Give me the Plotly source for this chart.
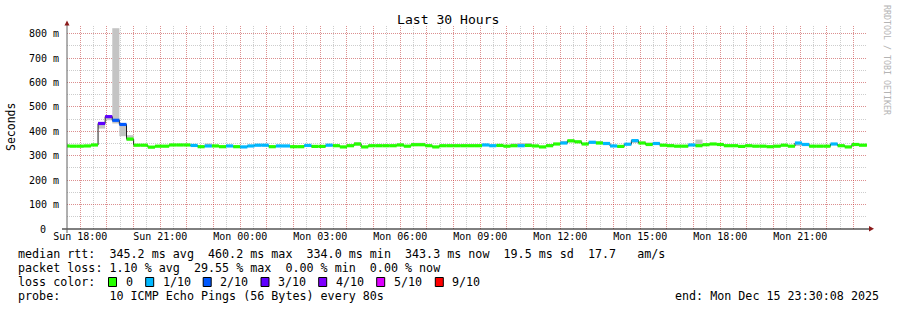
import plotly.graph_objects as go
from datetime import datetime, timedelta

FONT = "DejaVu Sans Mono"

# ---------------- data ----------------
first_step = "2025-12-14 17:20:00"      # start of first 16-minute RRD step
step_minutes = 16
window_start = "2025-12-14 17:30:08"
window_end = "2025-12-15 23:30:08"

median_ms = [
    340, 339, 339, 340, 344, 432, 460, 445, 428, 368,
    343, 343, 335, 339, 339, 344, 344, 344, 342, 337,
    340, 340, 337, 340, 337, 336, 340, 343, 343, 337,
    340, 340, 337, 337, 342, 338, 338, 343, 341, 336,
    341, 348, 336, 341, 341, 341, 341, 344, 339, 345,
    345, 341, 336, 341, 341, 341, 341, 341, 341, 344,
    341, 342, 339, 341, 341, 342, 340, 336, 341, 348,
    352, 361, 357, 348, 355, 352, 350, 340, 338, 347,
    362, 352, 346, 350, 343, 341, 339, 339, 344, 341,
    345, 348, 346, 341, 341, 338, 341, 339, 339, 337,
    339, 343, 339, 352, 346, 339, 339, 339, 348, 341,
    336, 346, 343, 343,
]

# loss bucket per step (index into loss_labels)
loss_bin = [
    0, 0, 0, 0, 0, 3, 3, 2, 2, 0,
    0, 0, 0, 0, 0, 0, 0, 0, 1, 0,
    1, 0, 0, 1, 0, 1, 1, 1, 1, 0,
    1, 1, 0, 0, 1, 0, 0, 1, 0, 0,
    0, 0, 0, 0, 0, 0, 0, 0, 0, 0,
    0, 0, 0, 0, 0, 0, 0, 0, 0, 1,
    1, 0, 0, 0, 1, 0, 0, 0, 0, 0,
    1, 0, 0, 0, 1, 0, 1, 1, 0, 1,
    1, 0, 0, 1, 0, 0, 0, 0, 1, 0,
    0, 0, 0, 0, 0, 0, 0, 0, 0, 0,
    0, 0, 0, 1, 1, 0, 0, 0, 1, 0,
    0, 0, 0, 0,
]

# steps where the smoke (ping spread) is visible
smoke_steps = [5, 6, 7, 8, 9, 20, 41, 47, 49, 50, 63, 64, 65, 68, 70, 71, 72, 74, 75,
               80, 81, 82, 83, 85, 89, 103, 104]
smoke_lo = [411, 445, 432, 380, 362, 340, 341, 341, 345, 345, 341, 341, 342, 341, 348, 355, 352, 350, 348,
            352, 348, 346, 345, 341, 341, 340, 340]
smoke_hi = [432, 462, 822, 428, 384, 350, 355, 350, 353, 353, 350, 352, 352, 348, 360, 366, 362, 360, 360,
            366, 358, 354, 356, 346, 366, 352, 350]

loss_labels = ["0", "1/10", "2/10", "3/10", "4/10", "5/10", "9/10"]
loss_colors = ["#26ff00", "#00b8ff", "#0059ff", "#5e00ff", "#7e00ff", "#dd00ff", "#ff0000"]

y_tick_values = [0, 100, 200, 300, 400, 500, 600, 700, 800]
y_tick_labels = ["0", "100 m", "200 m", "300 m", "400 m", "500 m", "600 m", "700 m", "800 m"]

x_label_times = ["2025-12-14 18:00", "2025-12-14 21:00", "2025-12-15 00:00", "2025-12-15 03:00",
                 "2025-12-15 06:00", "2025-12-15 09:00", "2025-12-15 12:00", "2025-12-15 15:00",
                 "2025-12-15 18:00", "2025-12-15 21:00"]
x_labels = ["Sun 18:00", "Sun 21:00", "Mon 00:00", "Mon 03:00", "Mon 06:00", "Mon 09:00",
            "Mon 12:00", "Mon 15:00", "Mon 18:00", "Mon 21:00"]

stats_rtt = "median rtt:  345.2 ms avg  460.2 ms max  334.0 ms min  343.3 ms now  19.5 ms sd  17.7   am/s"
stats_loss = "packet loss: 1.10 % avg  29.55 % max  0.00 % min  0.00 % now"
probe_text = "probe:       10 ICMP Echo Pings (56 Bytes) every 80s"
end_text = "end: Mon Dec 15 23:30:08 2025"
title_text = "Last 30 Hours"
y_title = "Seconds"
side_text = "RRDTOOL / TOBI OETIKER"

# ---------------- geometry helpers (layout only) ----------------
W, H = 897, 310
ML, MR, MT, MB = 67, 30, 26, 81
PW, PH = W - ML - MR, H - MT - MB


def pxX(x):
    return (x - ML) / PW


def pxY(y):
    return (H - MB - y) / PH


fmt = "%Y-%m-%d %H:%M:%S"
t0 = datetime.strptime(first_step, fmt)
step = timedelta(minutes=step_minutes)
starts = [t0 + i * step for i in range(len(median_ms))]
ends = [s + step for s in starts]
centers = [s + step / 2 for s in starts]

fig = go.Figure()

# smoke
fig.add_trace(go.Bar(
    x=[centers[i] for i in smoke_steps],
    base=smoke_lo,
    y=[h - l for h, l in zip(smoke_hi, smoke_lo)],
    width=step.total_seconds() * 1000,
    marker=dict(color="#c4c4c4", line=dict(width=0)),
    hoverinfo="skip", showlegend=False,
))

# black step line of the median
fig.add_trace(go.Scatter(
    x=starts + [ends[-1]], y=median_ms + [median_ms[-1]],
    mode="lines", line=dict(color="#202020", width=1, shape="hv"),
    hoverinfo="skip", showlegend=False,
))

# coloured median segments by loss
for b, col in enumerate(loss_colors):
    xs, ys = [], []
    for i, m in enumerate(median_ms):
        if loss_bin[i] == b:
            xs += [starts[i], ends[i], None]
            ys += [m, m, None]
    if xs:
        fig.add_trace(go.Scatter(x=xs, y=ys, mode="lines",
                                 line=dict(color=col, width=3.2),
                                 hoverinfo="skip", showlegend=False))

# hourly grid ticks (labels only every 3 hours)
ws = datetime.strptime(window_start, fmt)
hour0 = ws.replace(minute=0, second=0) + timedelta(hours=1)
hour_ticks, hour_text = [], []
label_map = {datetime.strptime(t, "%Y-%m-%d %H:%M"): l for t, l in zip(x_label_times, x_labels)}
h = hour0
we = datetime.strptime(window_end, fmt)
while h < we:
    hour_ticks.append(h)
    hour_text.append(label_map.get(h, ""))
    h += timedelta(hours=1)

RED = "rgba(255,0,0,0.30)"
GREY = "rgba(130,130,130,0.40)"

# the zero label carries no unit, so it sits two characters further left
y_axis_text = [("" if v == 0 else t) for v, t in zip(y_tick_values, y_tick_labels)]

fig.update_layout(
    width=W, height=H,
    margin=dict(l=ML, r=MR, t=MT, b=MB, pad=0),
    paper_bgcolor="white", plot_bgcolor="white",
    barmode="overlay",
    font=dict(family=FONT, size=10, color="black"),
    xaxis=dict(
        type="date", range=[window_start, window_end],
        tickvals=hour_ticks, ticktext=hour_text,
        showgrid=True, gridcolor=RED, griddash="1px,1px", gridwidth=1,
        ticks="", ticklen=0,
        tickfont=dict(family=FONT, size=10),
        minor=dict(dtick=1800000, showgrid=True, gridcolor=GREY, griddash="1px,1px", ticks=""),
        showline=False, zeroline=False, fixedrange=True,
    ),
    yaxis=dict(
        range=[0, 831],
        tickvals=y_tick_values, ticktext=y_axis_text,
        showgrid=True, gridcolor=RED, griddash="1px,1px", gridwidth=1,
        ticks="", ticklabelstandoff=7,
        tickfont=dict(family=FONT, size=10),
        minor=dict(dtick=50, showgrid=True, gridcolor=GREY, griddash="1px,1px"),
        showline=False, zeroline=False, fixedrange=True,
    ),
)

shapes = [
    # x axis line
    dict(type="line", xref="paper", yref="paper", x0=pxX(62), x1=pxX(869), y0=0, y1=0,
         line=dict(color="black", width=1)),
    # y axis line
    dict(type="line", xref="paper", yref="paper", x0=0, x1=0, y0=pxY(233), y1=pxY(24),
         line=dict(color="#606060", width=1)),
    # arrows
    dict(type="path", xref="paper", yref="paper",
         path=f"M {pxX(64.5)} {pxY(25.5)} L {pxX(69.5)} {pxY(25.5)} L {pxX(67)} {pxY(20.5)} Z",
         fillcolor="#8b1a1a", line=dict(width=0)),
    dict(type="path", xref="paper", yref="paper",
         path=f"M {pxX(869)} {pxY(226)} L {pxX(869)} {pxY(231.5)} L {pxX(874)} {pxY(228.7)} Z",
         fillcolor="#8b1a1a", line=dict(width=0)),
]

annotations = [
    dict(text=y_tick_labels[0], x=pxX(47.5), y=y_tick_values[0], xref="paper", yref="y",
         showarrow=False, xanchor="right", yanchor="middle",
         font=dict(family=FONT, size=10, color="black")),
    dict(text=title_text, x=pxX(448), y=pxY(19.5), xref="paper", yref="paper",
         showarrow=False, xanchor="center", yanchor="middle",
         font=dict(family=FONT, size=13.1, color="black")),
    dict(text=y_title, x=pxX(11), y=pxY(127), xref="paper", yref="paper",
         showarrow=False, xanchor="center", yanchor="middle", textangle=-90,
         font=dict(family=FONT, size=11.5, color="black")),
    dict(text=side_text, x=pxX(887), y=pxY(60), xref="paper", yref="paper",
         showarrow=False, xanchor="center", yanchor="middle", textangle=90,
         font=dict(family=FONT, size=8.3, color="#b4b4b4")),
]

LEG = 11.7
line_y = [254.3, 268.3, 282, 296]
for txt, yy in [(stats_rtt, line_y[0]), (stats_loss, line_y[1]), ("loss color:", line_y[2]),
                (probe_text, line_y[3])]:
    annotations.append(dict(text=txt.replace(" ", "\u00a0"), x=pxX(16), y=pxY(yy),
                            xref="paper", yref="paper", showarrow=False,
                            xanchor="left", yanchor="middle",
                            font=dict(family=FONT, size=LEG, color="black")))
annotations.append(dict(text=end_text.replace(" ", "\u00a0"), x=pxX(881), y=pxY(line_y[3]),
                        xref="paper", yref="paper", showarrow=False,
                        xanchor="right", yanchor="middle",
                        font=dict(family=FONT, size=LEG, color="black")))

box_x = [108.5, 145.7, 203.2, 261.0, 318.7, 376.7, 435.3]
for bx, lab, col in zip(box_x, loss_labels, loss_colors):
    shapes.append(dict(type="rect", xref="paper", yref="paper",
                       x0=pxX(bx), x1=pxX(bx + 8), y0=pxY(line_y[2] + 4.5), y1=pxY(line_y[2] - 4.5),
                       fillcolor=col, line=dict(color="black", width=1)))
    annotations.append(dict(text=lab, x=pxX(bx + 15), y=pxY(line_y[2]),
                            xref="paper", yref="paper", showarrow=False,
                            xanchor="left", yanchor="middle",
                            font=dict(family=FONT, size=LEG, color="black")))

fig.update_layout(shapes=shapes, annotations=annotations)
fig.write_html("out.html")
